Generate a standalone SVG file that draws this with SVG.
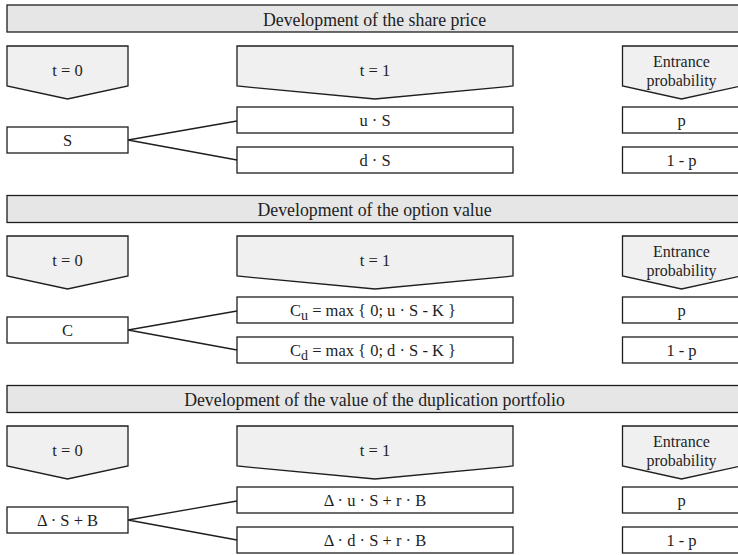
<svg xmlns="http://www.w3.org/2000/svg" width="738" height="555" viewBox="0 0 738 555">
  <style>
    .bar { fill: #e6e6e6; stroke: #1e1e1e; stroke-width: 1.3; }
    .head { fill: #f0f0f0; stroke: #1e1e1e; stroke-width: 1.3; stroke-linejoin: miter; }
    .box { fill: #ffffff; stroke: #1e1e1e; stroke-width: 1.3; }
    .edge { fill: none; stroke: #1e1e1e; stroke-width: 1.3; }
    text { font-family: "Liberation Serif", "Times New Roman", serif; fill: #1e1e1e; text-anchor: middle; }
    .title { font-size: 17.8px; }
    .lbl { font-size: 16.5px; }
    .prob { font-size: 16px; }
    .sub { font-size: 14px; }
  </style>
  <rect width="738" height="555" fill="#ffffff"/>

  <!-- Section 1: share price -->
  <g id="sec-share" font-family="'Liberation Serif', 'Times New Roman', serif">
    <g id="share-title">
      <rect class="bar" x="7" y="5" width="740" height="27"/>
      <text class="title" x="374.5" y="25.5">Development of the share price</text>
    </g>
    <g id="share-t0">
      <polygon class="head" points="7,46 128,46 128,86 67.5,99 7,86"/>
      <text class="lbl" x="67.5" y="76">t = 0</text>
    </g>
    <g id="share-t1">
      <polygon class="head" points="237,46 513,46 513,86 375,99 237,86"/>
      <text class="lbl" x="375" y="76">t = 1</text>
    </g>
    <g id="share-prob">
      <polygon class="head" points="622.5,46 740.5,46 740.5,86 681.5,99 622.5,86"/>
      <text class="prob" x="681.5" y="66.5">Entrance</text>
      <text class="prob" x="681.5" y="85.5">probability</text>
    </g>
    <g id="share-s0">
      <rect class="box" x="7" y="127" width="121" height="26"/>
      <text class="lbl" x="67.5" y="146">S</text>
    </g>
    <g id="share-up">
      <rect class="box" x="237" y="107" width="276" height="26"/>
      <text class="lbl" x="375" y="126">u · S</text>
    </g>
    <g id="share-down">
      <rect class="box" x="237" y="147" width="276" height="26"/>
      <text class="lbl" x="375" y="166">d · S</text>
    </g>
    <g id="share-p">
      <rect class="box" x="622.5" y="107" width="118" height="26"/>
      <text class="lbl" x="681.5" y="126">p</text>
    </g>
    <g id="share-q">
      <rect class="box" x="622.5" y="147" width="118" height="26"/>
      <text class="lbl" x="681.5" y="166">1 - p</text>
    </g>
  </g>

  <!-- Section 2: option value -->
  <g id="sec-option" transform="translate(0,190)" font-family="'Liberation Serif', 'Times New Roman', serif">
    <g id="option-title">
      <rect class="bar" x="7" y="5.5" width="740" height="27"/>
      <text class="title" x="374.5" y="26">Development of the option value</text>
    </g>
    <g id="option-t0">
      <polygon class="head" points="7,46 128,46 128,86 67.5,99 7,86"/>
      <text class="lbl" x="67.5" y="76">t = 0</text>
    </g>
    <g id="option-t1">
      <polygon class="head" points="237,46 513,46 513,86 375,99 237,86"/>
      <text class="lbl" x="375" y="76">t = 1</text>
    </g>
    <g id="option-prob">
      <polygon class="head" points="622.5,46 740.5,46 740.5,86 681.5,99 622.5,86"/>
      <text class="prob" x="681.5" y="66.5">Entrance</text>
      <text class="prob" x="681.5" y="85.5">probability</text>
    </g>
    <g id="option-c0">
      <rect class="box" x="7" y="127" width="121" height="26"/>
      <text class="lbl" x="67.5" y="146">C</text>
    </g>
    <g id="option-up">
      <rect class="box" x="237" y="107" width="276" height="26"/>
      <text class="lbl" x="373" y="126">C<tspan class="sub" dy="4">u</tspan><tspan dy="-4"> = max { 0; u · S - K }</tspan></text>
    </g>
    <g id="option-down">
      <rect class="box" x="237" y="147" width="276" height="26"/>
      <text class="lbl" x="373" y="166">C<tspan class="sub" dy="4">d</tspan><tspan dy="-4"> = max { 0; d · S - K }</tspan></text>
    </g>
    <g id="option-p">
      <rect class="box" x="622.5" y="107" width="118" height="26"/>
      <text class="lbl" x="681.5" y="126">p</text>
    </g>
    <g id="option-q">
      <rect class="box" x="622.5" y="147" width="118" height="26"/>
      <text class="lbl" x="681.5" y="166">1 - p</text>
    </g>
  </g>

  <!-- Section 3: duplication portfolio -->
  <g id="sec-portfolio" transform="translate(0,380)" font-family="'Liberation Serif', 'Times New Roman', serif">
    <g id="portfolio-title">
      <rect class="bar" x="7" y="5.5" width="740" height="27"/>
      <text class="title" x="374.5" y="26">Development of the value of the duplication portfolio</text>
    </g>
    <g id="portfolio-t0">
      <polygon class="head" points="7,46 128,46 128,86 67.5,99 7,86"/>
      <text class="lbl" x="67.5" y="76">t = 0</text>
    </g>
    <g id="portfolio-t1">
      <polygon class="head" points="237,46 513,46 513,86 375,99 237,86"/>
      <text class="lbl" x="375" y="76">t = 1</text>
    </g>
    <g id="portfolio-prob">
      <polygon class="head" points="622.5,46 740.5,46 740.5,86 681.5,99 622.5,86"/>
      <text class="prob" x="681.5" y="66.5">Entrance</text>
      <text class="prob" x="681.5" y="85.5">probability</text>
    </g>
    <g id="portfolio-v0">
      <rect class="box" x="7" y="127" width="121" height="26"/>
      <text class="lbl" x="67.5" y="146">Δ · S + B</text>
    </g>
    <g id="portfolio-up">
      <rect class="box" x="237" y="107" width="276" height="26"/>
      <text class="lbl" x="375" y="126">Δ · u · S + r · B</text>
    </g>
    <g id="portfolio-down">
      <rect class="box" x="237" y="147" width="276" height="26"/>
      <text class="lbl" x="375" y="166">Δ · d · S + r · B</text>
    </g>
    <g id="portfolio-p">
      <rect class="box" x="622.5" y="107" width="118" height="26"/>
      <text class="lbl" x="681.5" y="126">p</text>
    </g>
    <g id="portfolio-q">
      <rect class="box" x="622.5" y="147" width="118" height="26"/>
      <text class="lbl" x="681.5" y="166">1 - p</text>
    </g>
  </g>

  <!-- Branch connectors from t = 0 to the two t = 1 states -->
  <g id="connectors">
    <path class="edge" d="M128,140 L237,121 M128,140 L237,160"/>
    <path class="edge" d="M128,330 L237,311 M128,330 L237,350"/>
    <path class="edge" d="M128,520 L237,501 M128,520 L237,540"/>
  </g>
</svg>
